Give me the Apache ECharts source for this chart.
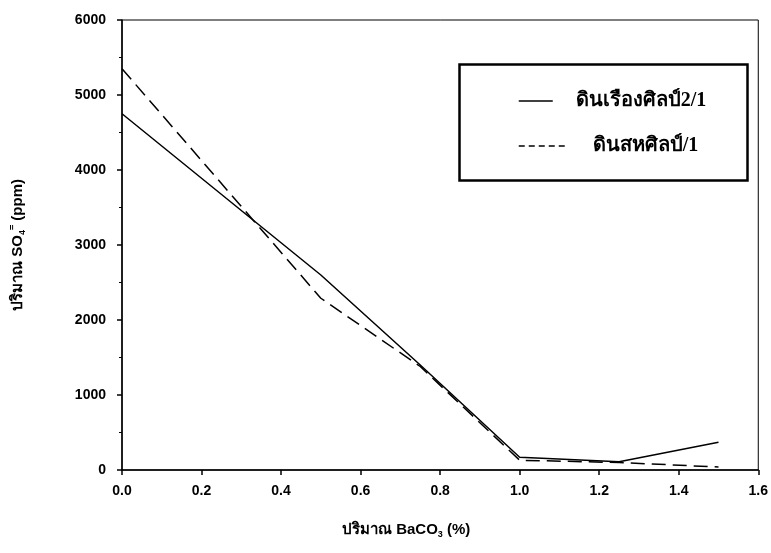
<!DOCTYPE html>
<html>
<head>
<meta charset="utf-8">
<script src="https://cdn.jsdelivr.net/npm/echarts@6/dist/echarts.min.js"></script>
<style>
  html, body { margin: 0; padding: 0; background: #fff; }
  #chart { width: 771px; height: 553px; }
</style>
</head>
<body>
<div id="chart"></div>
<script>
// ปริมาณ BaCO3 (%)
const doses = [0, 0.5, 0.75, 1.0, 1.25, 1.5]
// ดินเรืองศิลป์2/1 (solid)
const soilRuang = [4750, 2600, 1400, 170, 110, 370]
// ดินสหศิลป์/1 (dashed)
const soilSaha = [5350, 2290, 1380, 130, 100, 40]
const seriesNames = ['ดินเรืองศิลป์2/1', 'ดินสหศิลป์/1']

const chart = echarts.init(document.getElementById('chart'))

const labelFont = {
  color: '#000',
  fontSize: 14,
  fontWeight: 'bold',
  fontFamily: 'Liberation Sans, Arial, sans-serif'
}

const option = {
  backgroundColor: '#fff',
  animation: false,
  grid: {
    left: 120,
    right: 11,
    top: 20,
    bottom: 83,
    show: true,
    borderColor: '#000',
    borderWidth: 1
  },
  xAxis: {
    type: 'value',
    min: 0,
    max: 1.6,
    interval: 0.2,
    splitLine: { show: false },
    axisLine: { lineStyle: { color: '#000', width: 1.5 } },
    axisTick: { length: 5, lineStyle: { color: '#000', width: 1.5 } },
    axisLabel: {
      ...labelFont,
      margin: 14,
      formatter: v => v.toFixed(1)
    },
    name: '{t|ปริมาณ BaCO}{s|3}{t| (%)}',
    nameLocation: 'middle',
    nameGap: 50,
    nameTextStyle: {
      padding: [0, 68, 0, 0],
      rich: {
        t: { fontSize: 15, fontWeight: 'bold', color: '#000', fontFamily: 'Liberation Sans, Arial, sans-serif' },
        s: { fontSize: 9, fontWeight: 'bold', color: '#000', padding: [10, 0, 0, 0], fontFamily: 'Liberation Sans, Arial, sans-serif' }
      }
    }
  },
  yAxis: {
    type: 'value',
    min: 0,
    max: 6000,
    interval: 1000,
    splitLine: { show: false },
    axisLine: { lineStyle: { color: '#000', width: 1.5 } },
    axisTick: { length: 5, lineStyle: { color: '#000', width: 1.5 } },
    minorTick: { show: true, splitNumber: 2, length: 3, lineStyle: { color: '#000' } },
    axisLabel: { ...labelFont, margin: 16, formatter: v => String(v) },
    name: '{t|ปริมาณ SO}{s|4}{p|=}{t| (ppm)}',
    nameLocation: 'middle',
    nameRotate: 90,
    nameGap: 95,
    nameTextStyle: {
      rich: {
        t: { fontSize: 15, fontWeight: 'bold', color: '#000', fontFamily: 'Liberation Sans, Arial, sans-serif' },
        s: { fontSize: 9, fontWeight: 'bold', color: '#000', padding: [10, 0, 0, 0], fontFamily: 'Liberation Sans, Arial, sans-serif' },
        p: { fontSize: 9, fontWeight: 'bold', color: '#000', padding: [0, 0, 10, 0], fontFamily: 'Liberation Sans, Arial, sans-serif' }
      }
    }
  },
  legend: [
    {
      data: [{ name: seriesNames[0], lineStyle: { type: 'solid', width: 1.5 }, itemStyle: { opacity: 0 } }],
      left: 513,
      top: 86,
      itemWidth: 34,
      itemHeight: 14,
      textStyle: { color: '#000', fontSize: 20, fontWeight: 'bold', fontFamily: 'Liberation Serif, serif', padding: [0, 0, 0, 18] }
    },
    {
      data: [{ name: seriesNames[1], lineStyle: { type: [6, 4], width: 1.5 }, itemStyle: { opacity: 0 } }],
      left: 513,
      top: 131,
      itemWidth: 50,
      itemHeight: 14,
      textStyle: { color: '#000', fontSize: 20, fontWeight: 'bold', fontFamily: 'Liberation Serif, serif', padding: [0, 0, 0, 19] }
    }
  ],
  graphic: [
    {
      type: 'rect',
      left: 457,
      top: 62,
      shape: { width: 288, height: 116 },
      style: { fill: 'none', stroke: '#000', lineWidth: 2.5 }
    }
  ],
  series: [
    {
      name: seriesNames[0],
      type: 'line',
      data: doses.map((d, i) => [d, soilRuang[i]]),
      symbol: 'none',
      lineStyle: { color: '#000', width: 1.5, type: 'solid' },
      itemStyle: { color: '#000' }
    },
    {
      name: seriesNames[1],
      type: 'line',
      data: doses.map((d, i) => [d, soilSaha[i]]),
      symbol: 'none',
      lineStyle: { color: '#000', width: 1.5, type: [14, 7] },
      itemStyle: { color: '#000' }
    }
  ]
}

chart.setOption(option)
</script>
</body>
</html>
